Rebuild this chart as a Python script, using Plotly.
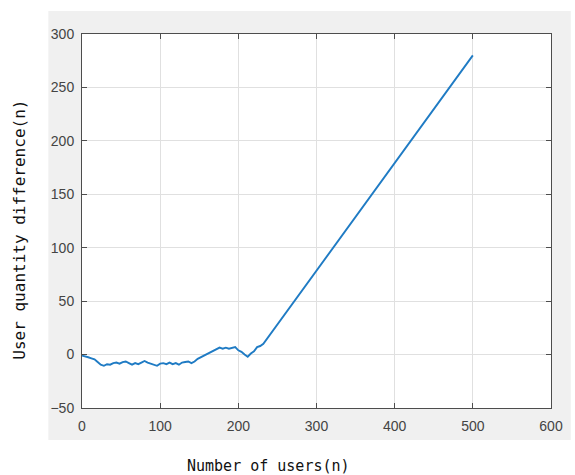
import plotly.graph_objects as go

# Noisy segment, then the linear growth segment
users = [0, 4, 8, 12, 16, 20, 24, 28, 32, 36, 40, 44, 48, 52, 56, 60, 64, 68, 72, 76,
         80, 84, 88, 92, 96, 100, 104, 108, 112, 116, 120, 124, 128, 132, 136, 140, 144, 148, 152, 156,
         160, 164, 168, 172, 176, 180, 184, 188, 192, 196, 200, 204, 208, 212, 216, 220, 224, 228,
         232, 500]
diff = [-1, -1.5, -2.5, -3.5, -4.5, -7, -9.5, -10.5, -9, -9.5, -8, -7.5, -8.5, -7, -6.5, -8, -9.5, -8, -9, -7.5,
        -6, -7.5, -8.5, -9.5, -10.5, -8.5, -8, -9, -7.5, -9, -8, -9.5, -7.5, -7, -6.5, -8, -6.5, -4, -2.5, -1,
        0, 1.5, 3.5, 5, 6.5, 5.5, 6.5, 5.5, 6, 7, 4, 2.5, 0, -2, 1, 3, 7, 8,
        10, 280]

x_ticks = [0, 100, 200, 300, 400, 500, 600]
y_ticks = [-50, 0, 50, 100, 150, 200, 250, 300]

W, H = 575, 475
L, R, T, B = 82, 19, 34, 67
pw, ph = W - L - R, H - T - B

def px_x(p):
    return (p - L) / pw

def px_y(p):
    return (H - B - p) / ph

fig = go.Figure()
fig.add_trace(go.Scatter(x=users, y=diff, mode="lines",
                         line=dict(color="#1f7bc4", width=1.9), showlegend=False))

fig.add_shape(type="rect", xref="paper", yref="paper", layer="below",
              x0=px_x(48), x1=px_x(576), y0=px_y(440), y1=px_y(11),
              fillcolor="#f0f0f0", line=dict(width=0))
fig.add_shape(type="rect", xref="paper", yref="paper", layer="below",
              x0=0, x1=1, y0=0, y1=1, fillcolor="white", line=dict(width=0))

tickfont = dict(family="Liberation Sans, Arial, sans-serif", size=14, color="#444444")
axis_common = dict(showline=True, linecolor="#4d4d4d", linewidth=1, mirror="ticks",
                   ticks="inside", ticklen=5, tickcolor="#4d4d4d",
                   showgrid=True, gridcolor="#e0e0e0", gridwidth=1, zeroline=False,
                   tickfont=tickfont)

fig.update_xaxes(range=[0, 600], tickvals=x_ticks, ticklabelstandoff=5, **axis_common)
fig.update_yaxes(range=[-50, 300], tickvals=y_ticks, ticklabelstandoff=4, **axis_common)

titlefont = dict(family="DejaVu Sans Mono, monospace", size=15, color="#111111")
fig.add_annotation(text="Number of users(n)", xref="paper", yref="paper",
                   x=px_x(270), y=px_y(466), showarrow=False, font=titlefont,
                   xanchor="center", yanchor="middle")
fig.add_annotation(text="User quantity difference(n)", xref="paper", yref="paper",
                   x=px_x(18), y=px_y(230), showarrow=False, font=dict(titlefont, size=16),
                   textangle=-90, xanchor="center", yanchor="middle")

fig.update_layout(width=W, height=H, margin=dict(l=L, r=R, t=T, b=B, pad=0),
                  paper_bgcolor="white", plot_bgcolor="white")

fig.write_html("out.html")
